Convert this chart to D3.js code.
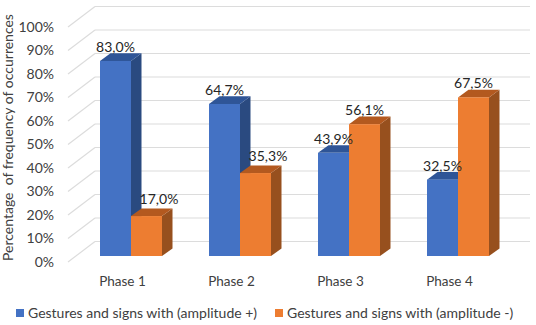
<!DOCTYPE html>
<html><head><meta charset="utf-8">
<script src="https://cdn.jsdelivr.net/npm/d3@7"></script>
<style>html,body{margin:0;padding:0;background:#fff}svg{display:block}text{font-family:Lato,"Open Sans",sans-serif}</style>
</head><body><div id="c"></div>
<script>
const categories=["Phase 1","Phase 2","Phase 3","Phase 4"];
const seriesNames=["Gestures and signs with (amplitude +)","Gestures and signs with (amplitude -)"];
const positive=[83.0,64.7,43.9,32.5];
const negative=[17.0,35.3,56.1,67.5];
const yTicks=[0,10,20,30,40,50,60,70,80,90,100];
const yTitle="Percentage  of frequency of occurrences";

const W=536,H=325;
const svg=d3.select("#c").append("svg").attr("width",W).attr("height",H);
const fmt=v=>v.toFixed(1).replace(".",",")+"%";
const y=d3.scaleLinear().domain([0,100]).range([256,21]);
const x0=d3.scaleBand().domain(categories).range([76.5,512.5]).paddingInner(0.4312).paddingOuter(0.2156);
const x1=d3.scaleBand().domain([0,1]).range([0,x0.bandwidth()]);
const dx=10.5,dy=-7.6;
const wall={dx:27,dy:-20.5,x0:68,base:6};
const colors=[{f:"#4472C4",t:"#2F5597",s:"#2A4A80"},{f:"#ED7D31",t:"#B3591F",s:"#97501E"}];
const textCol="#404040";

const grid=svg.append("g");
yTicks.forEach(t=>{
  const yb=y(t)+wall.base+wall.dy;
  grid.append("line").attr("x1",wall.x0+wall.dx).attr("x2",530).attr("y1",yb).attr("y2",yb).attr("stroke","#DCDCDC").attr("stroke-width",1.2);
  grid.append("line").attr("x1",wall.x0).attr("x2",wall.x0+wall.dx).attr("y1",y(t)+wall.base).attr("y2",yb).attr("stroke","#DCDCDC").attr("stroke-width",1.2);
});

svg.append("g").selectAll("text").data(yTicks).join("text")
  .attr("x",54).attr("y",t=>y(t)+wall.base).attr("dy","0.35em").attr("text-anchor","end")
  .attr("font-size",14).attr("fill",textCol).text(t=>t+"%");

svg.append("text").attr("transform","translate(13,137.5) rotate(-90)").attr("text-anchor","middle")
  .attr("font-size",14).attr("fill",textCol).style("white-space","pre").text(yTitle);

const bars=svg.append("g");
categories.forEach((c,i)=>{
  [positive[i],negative[i]].forEach((v,k)=>{
    const l=x0(c)+x1(k),r=l+x1.bandwidth(),t=y(v),b=y(0),col=colors[k];
    const g=bars.append("g");
    g.append("path").attr("d",d3.line()([[r,t],[r+dx,t+dy],[r+dx,b+dy],[r,b]])).attr("fill",col.s);
    g.append("path").attr("d",d3.line()([[l,t],[l+dx,t+dy],[r+dx,t+dy],[r,t]])).attr("fill",col.t);
    g.append("rect").attr("x",l).attr("y",t).attr("width",r-l).attr("height",b-t).attr("fill",col.f);
  });
});

const labels=svg.append("g");
categories.forEach((c,i)=>{
  [positive[i],negative[i]].forEach((v,k)=>{
    const moved=k==1&&i<2;
    labels.append("text").attr("x",x0(c)+x1(k)+x1.bandwidth()/2+(moved?12.5:0)).attr("y",y(v)-(moved?16.5:14))
      .attr("dy","0.35em").attr("text-anchor","middle").attr("font-size",14).attr("fill","#262626").text(fmt(v));
  });
});

svg.append("g").selectAll("text").data(categories).join("text")
  .attr("x",c=>x0(c)+x0.bandwidth()/2-8.5).attr("y",281.5).attr("dy","0.35em").attr("text-anchor","middle")
  .attr("font-size",13.5).attr("fill",textCol).text(c=>c);

const lx=[16,275];
seriesNames.forEach((n,k)=>{
  svg.append("rect").attr("x",lx[k]).attr("y",309).attr("width",8).attr("height",8).attr("fill",colors[k].f);
  svg.append("text").attr("x",lx[k]+12).attr("y",313).attr("dy","0.35em").attr("font-size",14).attr("fill",textCol).text(n);
});
</script></body></html>
